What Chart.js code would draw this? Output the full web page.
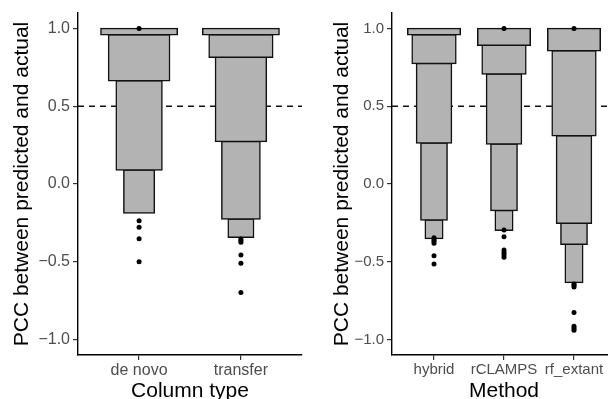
<!DOCTYPE html>
<html>
<head>
<meta charset="utf-8">
<script src="https://cdn.jsdelivr.net/npm/chart.js@4"></script>
<style>
  html, body { margin: 0; padding: 0; background: #fff; }
  body { width: 608px; height: 399px; overflow: hidden; position: relative; }
  canvas { position: absolute; top: 0; }
  #leftChart { left: 0; }
  #rightChart { left: 310px; }
</style>
</head>
<body>
<canvas id="leftChart" width="310" height="399"></canvas>
<canvas id="rightChart" width="310" height="399"></canvas>
<script>
// categories
const columnTypes = ['de novo', 'transfer'];
const methods = ['hybrid', 'rCLAMPS', 'rf_extant'];
const yTicks = [-1.0, -0.5, 0.0, 0.5, 1.0];
const refLine = 0.5;

// letter-value box edges, from the top box down
const deNovoEdges = [1.0, 0.96, 0.664, 0.09, -0.186];
const transferEdges = [1.0, 0.96, 0.816, 0.274, -0.225, -0.343];
const hybridEdges = [1.0, 0.96, 0.775, 0.264, -0.231, -0.35];
const rclampsEdges = [1.0, 0.893, 0.707, 0.257, -0.171, -0.298];
const rfExtantEdges = [1.0, 0.857, 0.31, -0.253, -0.388, -0.634];

// outlying points
const deNovoOutliers = [1.0, -0.236, -0.279, -0.352, -0.5];
const transferOutliers = [-0.353, -0.364, -0.375, -0.456, -0.51, -0.698];
const hybridOutliers = [-0.345, -0.358, -0.369, -0.381, -0.461, -0.514];
const rclampsOutliers = [1.0, -0.296, -0.339, -0.424, -0.44, -0.455, -0.472];
const rfExtantOutliers = [1.0, -0.643, -0.652, -0.662, -0.827, -0.915, -0.928, -0.94];

const FONT = "'Liberation Sans', Arial, Helvetica, sans-serif";

/**
 * build one panel of boxes + outliers
 */
function buildPanel(canvasId, categories, edgeSets, outlierSets, xTitle, cfg) {
  const xMin = 0.4;
  const xMax = categories.length + 0.6;
  const datasets = [];

  // dashed reference line (under the boxes)
  datasets.push({
    type: 'line',
    data: [{x: xMin, y: refLine}, {x: xMax, y: refLine}],
    borderColor: '#111',
    borderWidth: 1.4,
    borderDash: [6, 5],
    pointRadius: 0,
    order: 3
  });

  // boxes, width shrinks for each level
  edgeSets.forEach((edges, c) => {
    const k = edges.length - 1;
    for (let i = 0; i < k; i++) {
      datasets.push({
        type: 'bar',
        data: [{x: c + 1, y: [edges[i + 1], edges[i]]}],
        backgroundColor: '#B3B3B3',
        borderColor: '#111',
        borderWidth: 1.5,
        inflateAmount: 0.75, // so the stroke sits on the edge, like ggplot
        borderSkipped: false,
        grouped: false,
        categoryPercentage: 1,
        barPercentage: 0.75 * (k + 1 - i) / (k + 1),
        order: 2
      });
    }
  });

  outlierSets.forEach((vals, c) => {
    datasets.push({
      type: 'scatter',
      data: vals.map(v => ({x: c + 1, y: v})),
      pointRadius: 2.5,
      pointBackgroundColor: '#000',
      pointBorderWidth: 0,
      order: 1
    });
  });

  const tickFont = {family: FONT, size: cfg.tickSize};
  const titleFont = {family: FONT, size: 21, lineHeight: 1};

  new Chart(document.getElementById(canvasId), {
    type: 'bar',
    data: {datasets: datasets},
    options: {
      responsive: false,
      animation: false,
      layout: {padding: {top: 13, right: cfg.padRight, left: 0, bottom: 0}},
      plugins: {legend: {display: false}, tooltip: {enabled: false}},
      scales: {
        x: {
          type: 'linear',
          min: xMin,
          max: xMax,
          offset: false,
          afterBuildTicks: s => { s.ticks = categories.map((_, i) => ({value: i + 1})); },
          afterFit: s => { s.height = 44; },
          ticks: {
            callback: v => categories[Math.round(v) - 1],
            color: '#4D4D4D',
            font: tickFont,
            padding: 1,
            autoSkip: false,
            maxRotation: 0
          },
          grid: {display: true, drawOnChartArea: false, drawTicks: true, tickLength: 5, color: '#333', lineWidth: 1.2, offset: false},
          border: {display: true, color: '#000', width: 1.4},
          title: {display: true, text: xTitle, color: '#000', font: titleFont, padding: {top: 0, bottom: -3}}
        },
        y: {
          min: -1.1,
          max: 1.1,
          afterBuildTicks: s => { s.ticks = yTicks.map(v => ({value: v})); },
          afterFit: s => { s.width = cfg.yWidth; },
          ticks: {
            callback: v => v.toFixed(1).replace('-', '\u2212'),
            color: '#4D4D4D',
            font: tickFont,
            padding: 3
          },
          grid: {display: true, drawOnChartArea: false, drawTicks: true, tickLength: 5, color: '#333', lineWidth: 1.2},
          border: {display: true, color: '#000', width: 1.4},
          title: {
            display: true,
            text: 'PCC between predicted and actual',
            color: '#000',
            font: titleFont,
            padding: {top: cfg.titlePad, bottom: 0}
          }
        }
      }
    }
  });
}

buildPanel('leftChart', columnTypes,
  [deNovoEdges, transferEdges],
  [deNovoOutliers, transferOutliers],
  'Column type',
  {tickSize: 16, yWidth: 78, padRight: 8, titlePad: 12});

buildPanel('rightChart', methods,
  [hybridEdges, rclampsEdges, rfExtantEdges],
  [hybridOutliers, rclampsOutliers, rfExtantOutliers],
  'Method',
  {tickSize: 15, yWidth: 82, padRight: 0, titlePad: 22});
</script>
</body>
</html>
